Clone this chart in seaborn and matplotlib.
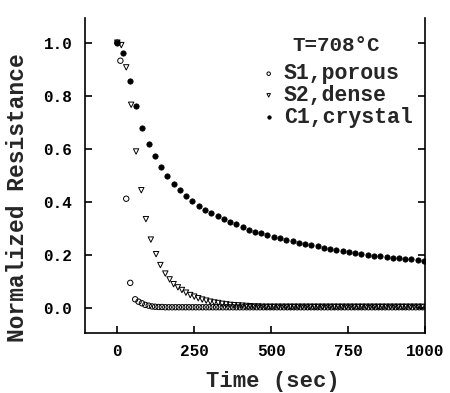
import matplotlib
matplotlib.use("Agg")
import matplotlib.pyplot as plt
import seaborn as sns
import pandas as pd

# ---- data ----
t_s1 = [0, 10, 29, 42, 58, 69, 80, 91, 102, 113, 123, 134, 145, 156, 167, 178, 189, 200,
        211, 222, 233, 244, 255, 266, 277, 288, 299, 310, 321, 332, 343, 354, 365, 376,
        387, 398, 409, 420, 431, 442, 453, 464, 475, 486, 497, 508, 519, 530, 541, 552,
        563, 574, 585, 596, 607, 618, 629, 640, 651, 662, 673, 684, 695, 706, 717, 728,
        739, 750, 761, 772, 783, 794, 805, 816, 827, 838, 849, 860, 871, 882, 893, 904,
        915, 926, 937, 948, 959, 970, 981, 992]
v_s1 = [1.000, 0.932, 0.412, 0.095, 0.033, 0.024, 0.018, 0.012, 0.009, 0.006, 0.005, 0.004,
        0.004, 0.003, 0.003, 0.003, 0.003, 0.003, 0.003, 0.003, 0.003, 0.003, 0.003, 0.003,
        0.003, 0.003, 0.003, 0.003, 0.003, 0.003, 0.003, 0.003, 0.003, 0.003, 0.003, 0.003,
        0.003, 0.003, 0.003, 0.003, 0.003, 0.003, 0.003, 0.003, 0.003, 0.003, 0.003, 0.003,
        0.003, 0.003, 0.003, 0.003, 0.003, 0.003, 0.003, 0.003, 0.003, 0.003, 0.003, 0.003,
        0.003, 0.003, 0.003, 0.003, 0.003, 0.003, 0.003, 0.003, 0.003, 0.003, 0.003, 0.003,
        0.003, 0.003, 0.003, 0.003, 0.003, 0.003, 0.003, 0.003, 0.003, 0.003, 0.003, 0.003,
        0.003, 0.003, 0.003, 0.003, 0.003, 0.003]

t_s2 = [0, 13, 29, 45, 61, 78, 93, 109, 126, 140, 156, 170, 183, 197, 210, 223, 237, 250,
        263, 276, 289, 302, 315, 328, 341, 354, 367, 380, 393, 406, 419, 432, 445, 458,
        471, 484, 497, 510, 523, 536, 549, 562, 575, 588, 601, 614, 627, 640, 653, 666,
        679, 692, 705, 718, 731, 744, 757, 770, 783, 796, 809, 822, 835, 848, 861, 874,
        887, 900, 913, 926, 939, 952, 965, 978, 991]
v_s2 = [1.000, 0.991, 0.907, 0.766, 0.590, 0.444, 0.335, 0.258, 0.203, 0.162, 0.130, 0.108,
        0.090, 0.078, 0.068, 0.058, 0.049, 0.043, 0.037, 0.032, 0.028, 0.024, 0.021, 0.019,
        0.016, 0.014, 0.012, 0.011, 0.010, 0.009, 0.008, 0.007, 0.006, 0.006, 0.005, 0.005,
        0.005, 0.005, 0.005, 0.005, 0.005, 0.005, 0.005, 0.005, 0.005, 0.005, 0.005, 0.005,
        0.005, 0.005, 0.005, 0.005, 0.005, 0.005, 0.005, 0.005, 0.005, 0.005, 0.005, 0.005,
        0.005, 0.005, 0.005, 0.005, 0.005, 0.005, 0.005, 0.005, 0.005, 0.005, 0.005, 0.005,
        0.005, 0.005, 0.005]

t_c1 = [0, 20, 40, 61, 81, 102, 122, 142, 163, 183, 204, 224, 244, 265, 285, 305, 326, 346,
        366, 387, 407, 427, 448, 468, 488, 509, 529, 549, 570, 590, 610, 631, 651, 671,
        692, 712, 732, 753, 773, 793, 814, 834, 854, 875, 895, 915, 936, 956, 976, 996]
v_c1 = [1.000, 0.960, 0.855, 0.760, 0.680, 0.619, 0.573, 0.533, 0.496, 0.466, 0.443, 0.422,
        0.403, 0.386, 0.371, 0.358, 0.346, 0.335, 0.325, 0.315, 0.305, 0.296, 0.288, 0.281,
        0.275, 0.269, 0.263, 0.257, 0.251, 0.247, 0.242, 0.237, 0.232, 0.227, 0.223, 0.219,
        0.215, 0.211, 0.207, 0.204, 0.201, 0.198, 0.195, 0.193, 0.190, 0.188, 0.186, 0.183,
        0.180, 0.176]

labels = ["S1,porous", "S2,dense", "C1,crystal"]
legend_title = "T=708\u00b0C"
x_ticks = [0, 250, 500, 750, 1000]
y_ticks = [0.0, 0.2, 0.4, 0.6, 0.8, 1.0]

# ---- plotting ----
sns.set_style("ticks")
plt.rcParams["font.family"] = ["Liberation Mono", "DejaVu Sans Mono"]
plt.rcParams["font.weight"] = "bold"

W, H = 450, 393
fig = plt.figure(figsize=(4.5, 3.93), dpi=100)
ax_h = 333 - 18
ax = fig.add_axes([85 / W, 1 - 333 / H, 340 / W, ax_h / H])

df1 = pd.DataFrame({"t": t_s1, "v": v_s1})
df2 = pd.DataFrame({"t": t_s2, "v": v_s2})
df3 = pd.DataFrame({"t": t_c1, "v": v_c1})

sns.scatterplot(data=df1, x="t", y="v", ax=ax, marker="o", s=15,
                facecolor="none", edgecolor="black", linewidth=0.7, label=labels[0], zorder=3)
sns.scatterplot(data=df2, x="t", y="v", ax=ax, marker="v", s=15,
                facecolor="none", edgecolor="black", linewidth=0.7, label=labels[1], zorder=3)
sns.scatterplot(data=df3, x="t", y="v", ax=ax, marker="o", s=15,
                color="black", edgecolor="black", linewidth=0.5, label=labels[2], zorder=4)

ax.set_xlim(-105, 1000)
ax.set_ylim(-0.094, 1.093)
ax.set_xticks(x_ticks)
ax.set_yticks(y_ticks)
ax.set_xticklabels([str(v) for v in x_ticks])
ax.set_yticklabels([f"{v:.1f}" for v in y_ticks])

ax.set_xlabel("Time (sec)", fontsize=16, fontweight="bold")
ax.set_ylabel("Normalized Resistance", fontsize=16.5, fontweight="bold")
ax.xaxis.set_label_coords((273 - 85) / 340, (333 - 371) / ax_h)
ax.yaxis.set_label_coords((29 - 85) / 340, (333 - 198) / ax_h)

for side in ["left", "right", "bottom"]:
    ax.spines[side].set_linewidth(1.2)
    ax.spines[side].set_color("black")
ax.spines["top"].set_visible(False)
ax.tick_params(axis="both", direction="in", length=5, width=1.2, labelsize=11.5,
               colors="black")
ax.tick_params(axis="y", right=True, left=True, pad=9)
ax.tick_params(axis="x", top=False, pad=8)

leg = ax.legend(title=legend_title, loc="upper left",
                bbox_to_anchor=((259 - 85) / 340, (333 - 36) / ax_h),
                frameon=False, markerscale=0.65, handletextpad=0.25, labelspacing=0.03,
                handlelength=0.9, borderpad=0.0, borderaxespad=0.0,
                prop={"size": 15.5, "weight": "bold"},
                title_fontproperties={"size": 15, "weight": "bold"})
leg._legend_box.sep = 6

fig.savefig("out.png", dpi=100)
